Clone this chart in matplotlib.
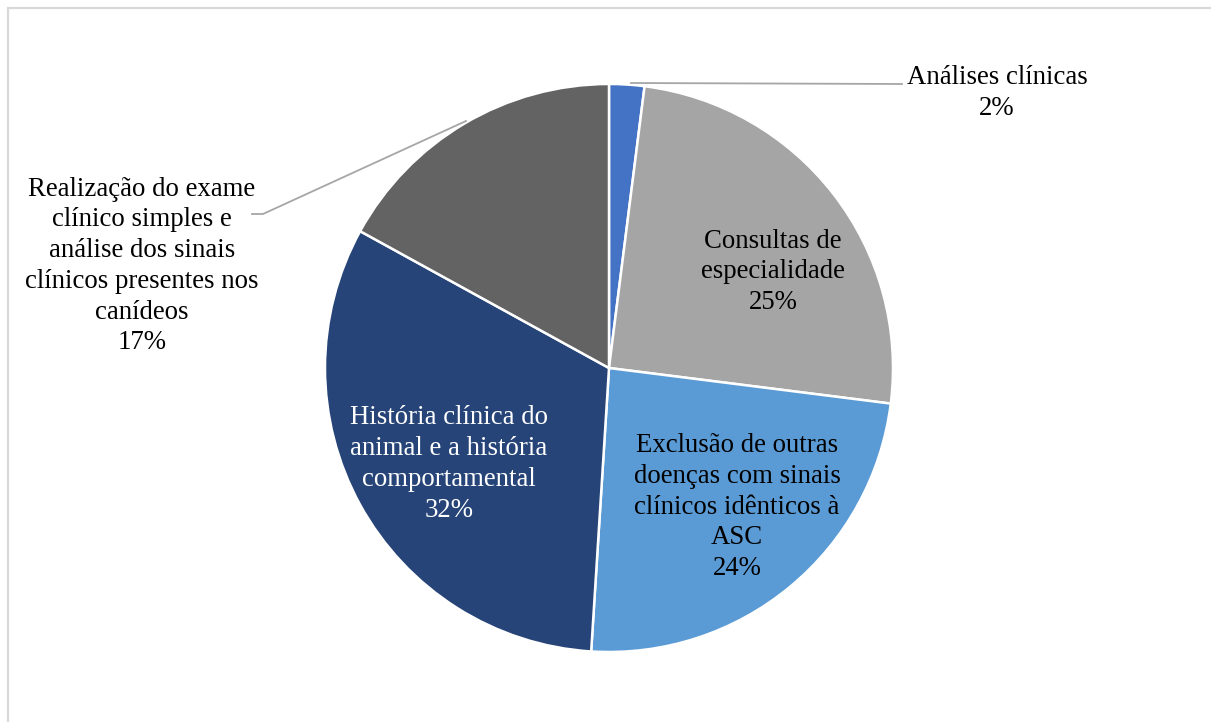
import matplotlib.pyplot as plt
from matplotlib.patches import Rectangle

plt.rcParams['font.family'] = ['Liberation Serif', 'DejaVu Serif']

labels = ['Análises clínicas', 'Consultas de\nespecialidade',
          'Exclusão de outras\ndoenças com sinais\nclínicos idênticos à\nASC',
          'História clínica do\nanimal e a história\ncomportamental',
          'Realização do exame\nclínico simples e\nanálise dos sinais\nclínicos presentes nos\ncanídeos']
values = [2, 25, 24, 32, 17]
colors = ['#4472C4', '#A5A5A5', '#5B9BD5', '#264478', '#636363']
text_colors = ['black', 'black', 'black', 'white', 'black']

W, H = 1211, 722
fig = plt.figure(figsize=(W / 100, H / 100), dpi=100)
ax = fig.add_axes([0, 0, 1, 1])

def py(y):
    # pixel rows run downwards, the axes y runs upwards
    return H - y

ax.pie(values, colors=colors, startangle=90, counterclock=False,
       center=(609, py(368)), radius=284,
       wedgeprops=dict(edgecolor='white', linewidth=1.8))

ax.set_xlim(0, W)
ax.set_ylim(0, H)
ax.set_aspect('equal')
ax.axis('off')

# chart border (right and bottom edges fall outside the image)
ax.add_patch(Rectangle((8, py(800)), 1300, 792, fill=False,
                       edgecolor='#D9D9D9', linewidth=1.6))

# label positions (text block centres)
label_pos = [(997, 93), (773, 272), (737, 507), (449, 464), (142, 266)]
for lab, v, (x, y), tc in zip(labels, values, label_pos, text_colors):
    ax.text(x, py(y), f'{lab}\n{v}%', ha='center', va='center',
            multialignment='center', fontsize=19.3, color=tc,
            linespacing=1.3)

# leader lines
ax.plot([631, 902], [py(83), py(84)], color='#A6A6A6', lw=1.3)
ax.plot([252, 263, 466], [py(214), py(214), py(121)], color='#A6A6A6', lw=1.3)

fig.savefig('out.png', dpi=100)
